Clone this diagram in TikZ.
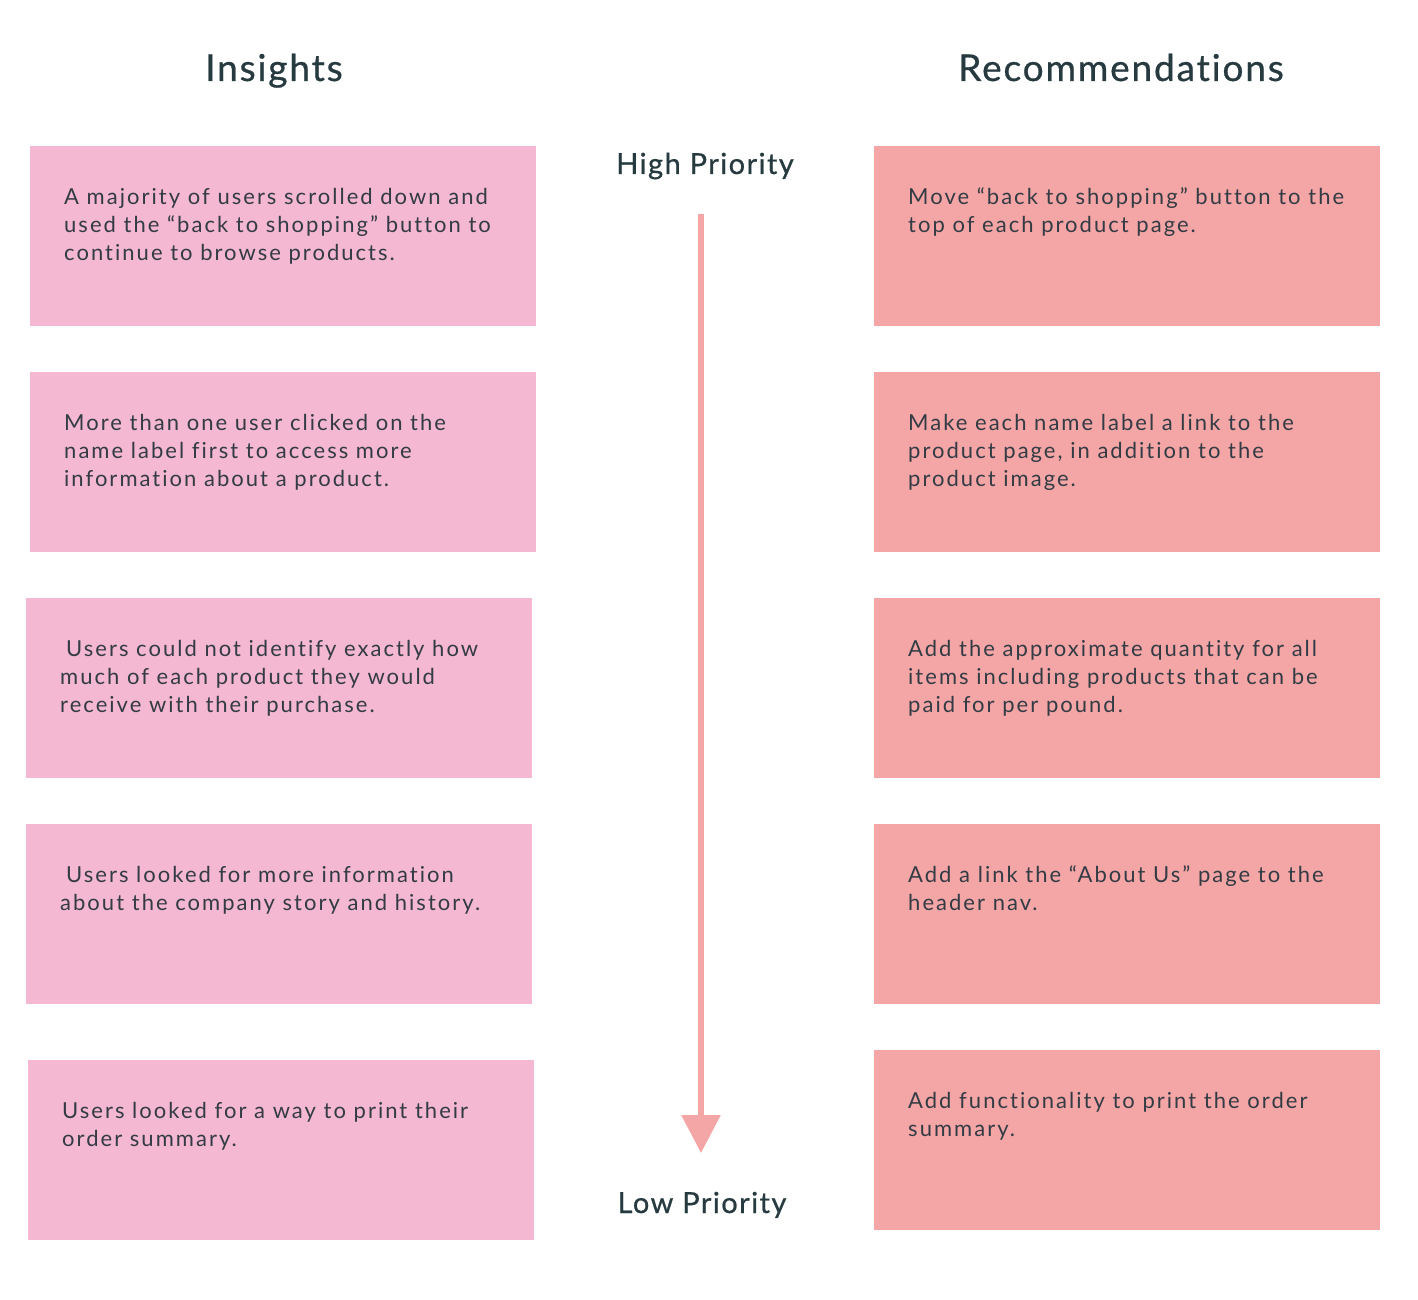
\documentclass[tikz,border=0pt]{standalone}
\usepackage{fontspec}
\setmainfont{Lato}
\newfontfamily\bodyfont[LetterSpace=9.2,Ligatures=NoCommon]{Lato}
\newfontfamily\headfont[LetterSpace=5,FakeBold=0.7,Ligatures=NoCommon]{Lato}
\usetikzlibrary{arrows.meta,calc}
\definecolor{insightfill}{HTML}{F4B8D2}
\definecolor{recfill}{HTML}{F4A6A6}
\definecolor{bodyink}{HTML}{333B44}
\definecolor{headink}{HTML}{263A3F}
\begin{document}
\begin{tikzpicture}[x=1pt,y=-1pt,
  card/.style={draw=none, inner sep=0, minimum width=506pt, minimum height=180pt, anchor=north west},
  insight/.style={card, fill=insightfill},
  rec/.style={card, fill=recfill},
  % the base anchor of a multi-line node sits on its last line
  bodytext/.style={anchor=base west, align=left, inner sep=0, text=bodyink,
    font=\bodyfont\fontsize{22}{28}\selectfont},
  heading/.style={anchor=base, inner sep=0, text=headink, font=\headfont\fontsize{37}{40}\selectfont},
  priority/.style={anchor=base, inner sep=0, text=headink, font=\headfont\fontsize{29}{32}\selectfont},
  scale arrow/.style={draw=recfill, line width=6pt, -{Triangle[width=38pt,length=38pt]}}
]
\useasboundingbox[fill=white] (0,0) rectangle (1418,1300);

% column headings
\node[heading] (hIns) at (274,81) {Insights};
\node[heading] (hRec) at (1121,81) {Recommendations};

% priority scale
\node[priority] (high) at (705,174) {High Priority};
\node[priority] (low) at (702,1213) {Low Priority};
\coordinate (scaleTop) at (701,214);
\coordinate (scaleTip) at (701,1153);
\draw[scale arrow] (scaleTop) -- (scaleTip);

% insight cards
\node[insight] (i1) at (30,146) {};
\node[insight] (i2) at (30,372) {};
\node[insight] (i3) at (26,598) {};
\node[insight] (i4) at (26,824) {};
\node[insight] (i5) at (28,1060) {};

\node[bodytext] (ti1) at ($(i1.north west)+(34,114)$) {A majority of users scrolled down and\\used the “back to shopping” button to\\continue to browse products.};
\node[bodytext] (ti2) at ($(i2.north west)+(34,114)$) {More than one user clicked on the\\name label first to access more\\information about a product.};
\node[bodytext] (ti3) at ($(i3.north west)+(34,114)$) {\hspace*{6pt}Users could not identify exactly how\\much of each product they would\\receive with their purchase.};
\node[bodytext] (ti4) at ($(i4.north west)+(34,86)$) {\hspace*{6pt}Users looked for more information\\about the company story and history.};
\node[bodytext] (ti5) at ($(i5.north west)+(34,86)$) {Users looked for a way to print their\\order summary.};

% recommendation cards
\node[rec] (r1) at (874,146) {};
\node[rec] (r2) at (874,372) {};
\node[rec] (r3) at (874,598) {};
\node[rec] (r4) at (874,824) {};
\node[rec] (r5) at (874,1050) {};

\node[bodytext] (tr1) at ($(r1.north west)+(34,86)$) {Move “back to shopping” button to the\\top of each product page.};
\node[bodytext] (tr2) at ($(r2.north west)+(34,114)$) {Make each name label a link to the\\product page, in addition to the\\product image.};
\node[bodytext] (tr3) at ($(r3.north west)+(34,114)$) {Add the approximate quantity for all\\items including products that can be\\paid for per pound.};
\node[bodytext] (tr4) at ($(r4.north west)+(34,86)$) {Add a link the “About Us” page to the\\header nav.};
\node[bodytext] (tr5) at ($(r5.north west)+(34,86)$) {Add functionality to print the order\\summary.};
\end{tikzpicture}
\end{document}
